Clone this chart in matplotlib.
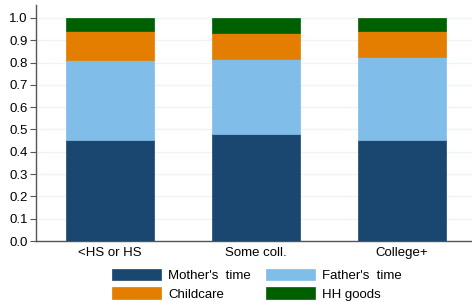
import matplotlib.pyplot as plt
import numpy as np

groups = ['<HS or HS', 'Some coll.', 'College+']
mother = [0.455, 0.478, 0.455]
father = [0.355, 0.340, 0.368]
childcare = [0.130, 0.115, 0.117]
hh_goods = [0.060, 0.067, 0.060]

labels = ["Mother's  time", "Father's  time", 'Childcare', 'HH goods']
colors = ['#1a476f', '#80bde9', '#e37e00', '#005f00']

plt.rcParams['font.family'] = ['Liberation Sans', 'DejaVu Sans']

fig = plt.figure(figsize=(4.72, 3.02), dpi=100)
ax = fig.add_axes([36 / 472, 1 - 241 / 302, 436 / 472, 236 / 302])

x = np.arange(len(groups))
series = [mother, father, childcare, hh_goods]
bottom = np.zeros(len(groups))
handles = []
for vals, col, lab in zip(series, colors, labels):
    b = ax.bar(x, vals, 0.6, bottom=bottom, color=col, edgecolor=col, linewidth=0.5, label=lab, zorder=3)
    handles.append(b)
    bottom += np.array(vals)

ax.set_xlim(-0.507, 2.48)
ax.set_ylim(0, 1.058)
ax.set_yticks(np.arange(0, 1.01, 0.1))
ax.set_yticklabels([f'{v:.1f}' for v in np.arange(0, 1.01, 0.1)])
ax.set_xticks(x)
ax.set_xticklabels(groups)
ax.tick_params(axis='x', length=0, labelsize=9.5, pad=4)
ax.tick_params(axis='y', length=4, width=0.8, color='#555555', labelsize=9.5, pad=2)
ax.yaxis.grid(True, color='#eef3f3', linewidth=1, zorder=0)
for s in ['top', 'right']:
    ax.spines[s].set_visible(False)
for s in ['left', 'bottom']:
    ax.spines[s].set_color('#555555')
    ax.spines[s].set_linewidth(1)

# legend rows: mother/father, childcare/hh goods
order = [0, 2, 1, 3]
fig.legend([handles[i] for i in order], [labels[i] for i in order], ncol=2,
           loc='lower center', bbox_to_anchor=(0.544, -0.035),
           frameon=False, fontsize=9.5, handlelength=3.7, handleheight=1.0,
           columnspacing=1.15, handletextpad=0.55, labelspacing=0.4)

plt.savefig('out.png', dpi=100)
